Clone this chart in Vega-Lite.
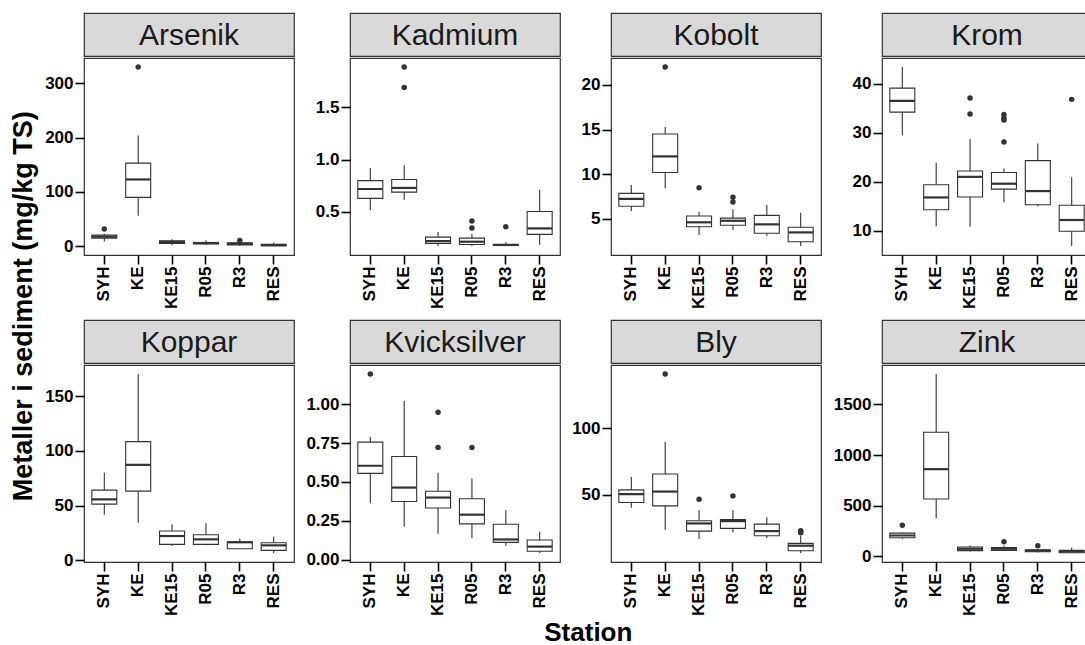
{
  "$schema": "https://vega.github.io/schema/vega-lite/v6.json",
  "padding": {"left": 10, "top": 12, "right": 0, "bottom": 2},
  "autosize": {"type": "pad"},
  "config": {
    "font": "Liberation Sans",
    "view": {"stroke": null},
    "axis": {"labelFont": "Liberation Sans", "labelFontWeight": "bold", "labelFontSize": 17, "labelColor": "#000000", "tickColor": "#000000", "tickWidth": 1.6, "tickSize": 9, "labelPadding": 2, "domain": false, "grid": false},
    "title": {"font": "Liberation Sans", "fontWeight": "bold", "fontSize": 25, "color": "#000000"}
  },
  "datasets": {
    "strips": [
      {"metal": "Arsenik"}, {"metal": "Kadmium"}, {"metal": "Kobolt"}, {"metal": "Krom"},
      {"metal": "Koppar"}, {"metal": "Kvicksilver"}, {"metal": "Bly"}, {"metal": "Zink"}
    ],
    "box": [
      {"metal": "Arsenik", "station": "SYH", "lo": 9, "q1": 15, "med": 17.5, "q3": 20.5, "hi": 23},
      {"metal": "Arsenik", "station": "KE", "lo": 56, "q1": 90, "med": 123, "q3": 153, "hi": 204},
      {"metal": "Arsenik", "station": "KE15", "lo": 2, "q1": 5, "med": 8, "q3": 10, "hi": 13},
      {"metal": "Arsenik", "station": "R05", "lo": 3, "q1": 4.5, "med": 6, "q3": 7, "hi": 11},
      {"metal": "Arsenik", "station": "R3", "lo": 1, "q1": 2.5, "med": 4.5, "q3": 6.5, "hi": 8},
      {"metal": "Arsenik", "station": "RES", "lo": 0.5, "q1": 1, "med": 2, "q3": 3.5, "hi": 7},
      {"metal": "Kadmium", "station": "SYH", "lo": 0.52, "q1": 0.63, "med": 0.72, "q3": 0.8, "hi": 0.92},
      {"metal": "Kadmium", "station": "KE", "lo": 0.616, "q1": 0.69, "med": 0.73, "q3": 0.81, "hi": 0.946},
      {"metal": "Kadmium", "station": "KE15", "lo": 0.175, "q1": 0.2, "med": 0.222, "q3": 0.26, "hi": 0.308},
      {"metal": "Kadmium", "station": "R05", "lo": 0.175, "q1": 0.19, "med": 0.216, "q3": 0.25, "hi": 0.29},
      {"metal": "Kadmium", "station": "R3", "lo": 0.175, "q1": 0.18, "med": 0.185, "q3": 0.19, "hi": 0.21},
      {"metal": "Kadmium", "station": "RES", "lo": 0.187, "q1": 0.286, "med": 0.343, "q3": 0.505, "hi": 0.71},
      {"metal": "Kobolt", "station": "SYH", "lo": 5.9, "q1": 6.42, "med": 7.24, "q3": 7.87, "hi": 8.8},
      {"metal": "Kobolt", "station": "KE", "lo": 8.43, "q1": 10.2, "med": 12.0, "q3": 14.5, "hi": 15.3},
      {"metal": "Kobolt", "station": "KE15", "lo": 3.2, "q1": 4.14, "med": 4.63, "q3": 5.34, "hi": 5.82},
      {"metal": "Kobolt", "station": "R05", "lo": 3.77, "q1": 4.3, "med": 4.8, "q3": 5.1, "hi": 6.1},
      {"metal": "Kobolt", "station": "R3", "lo": 3.1, "q1": 3.4, "med": 4.4, "q3": 5.4, "hi": 6.57},
      {"metal": "Kobolt", "station": "RES", "lo": 1.98, "q1": 2.46, "med": 3.5, "q3": 4.07, "hi": 5.7},
      {"metal": "Krom", "station": "SYH", "lo": 29.5, "q1": 34.2, "med": 36.5, "q3": 39.1, "hi": 43.4},
      {"metal": "Krom", "station": "KE", "lo": 10.95, "q1": 14.3, "med": 16.8, "q3": 19.4, "hi": 23.9},
      {"metal": "Krom", "station": "KE15", "lo": 10.8, "q1": 16.9, "med": 21.0, "q3": 22.2, "hi": 28.7},
      {"metal": "Krom", "station": "R05", "lo": 15.8, "q1": 18.5, "med": 19.6, "q3": 21.9, "hi": 22.7},
      {"metal": "Krom", "station": "R3", "lo": 15.0, "q1": 15.3, "med": 18.1, "q3": 24.3, "hi": 27.8},
      {"metal": "Krom", "station": "RES", "lo": 6.9, "q1": 9.9, "med": 12.2, "q3": 15.2, "hi": 20.9},
      {"metal": "Koppar", "station": "SYH", "lo": 41.7, "q1": 51.4, "med": 55.7, "q3": 64.2, "hi": 80},
      {"metal": "Koppar", "station": "KE", "lo": 34.4, "q1": 63.3, "med": 87.3, "q3": 108.6, "hi": 170.4},
      {"metal": "Koppar", "station": "KE15", "lo": 13.1, "q1": 14.6, "med": 22.2, "q3": 26.8, "hi": 32.9},
      {"metal": "Koppar", "station": "R05", "lo": 13.7, "q1": 14.6, "med": 19.2, "q3": 23.4, "hi": 34},
      {"metal": "Koppar", "station": "R3", "lo": 10.6, "q1": 10.6, "med": 16.5, "q3": 17, "hi": 20},
      {"metal": "Koppar", "station": "RES", "lo": 6.7, "q1": 9.1, "med": 13.7, "q3": 16.1, "hi": 21.6},
      {"metal": "Kvicksilver", "station": "SYH", "lo": 0.364, "q1": 0.555, "med": 0.604, "q3": 0.756, "hi": 0.788},
      {"metal": "Kvicksilver", "station": "KE", "lo": 0.212, "q1": 0.375, "med": 0.464, "q3": 0.663, "hi": 1.021},
      {"metal": "Kvicksilver", "station": "KE15", "lo": 0.167, "q1": 0.333, "med": 0.4, "q3": 0.44, "hi": 0.559},
      {"metal": "Kvicksilver", "station": "R05", "lo": 0.138, "q1": 0.231, "med": 0.29, "q3": 0.392, "hi": 0.523},
      {"metal": "Kvicksilver", "station": "R3", "lo": 0.089, "q1": 0.112, "med": 0.131, "q3": 0.229, "hi": 0.32},
      {"metal": "Kvicksilver", "station": "RES", "lo": 0.044, "q1": 0.055, "med": 0.085, "q3": 0.127, "hi": 0.18},
      {"metal": "Bly", "station": "SYH", "lo": 40.25, "q1": 44.25, "med": 50.5, "q3": 53.75, "hi": 63.5},
      {"metal": "Bly", "station": "KE", "lo": 23.5, "q1": 41.75, "med": 52.5, "q3": 65.75, "hi": 89.75},
      {"metal": "Bly", "station": "KE15", "lo": 16.75, "q1": 22.75, "med": 28.5, "q3": 30.5, "hi": 38.5},
      {"metal": "Bly", "station": "R05", "lo": 21.75, "q1": 24.75, "med": 30.25, "q3": 31.5, "hi": 38.5},
      {"metal": "Bly", "station": "R3", "lo": 17.5, "q1": 19.25, "med": 22.75, "q3": 28, "hi": 33.25},
      {"metal": "Bly", "station": "RES", "lo": 6.25, "q1": 8, "med": 11.75, "q3": 13.5, "hi": 19.25},
      {"metal": "Zink", "station": "SYH", "lo": 174, "q1": 183, "med": 206, "q3": 229, "hi": 239},
      {"metal": "Zink", "station": "KE", "lo": 373, "q1": 567, "med": 861, "q3": 1225, "hi": 1801},
      {"metal": "Zink", "station": "KE15", "lo": 49, "q1": 56, "med": 75, "q3": 92, "hi": 108},
      {"metal": "Zink", "station": "R05", "lo": 52, "q1": 59, "med": 75, "q3": 88, "hi": 108},
      {"metal": "Zink", "station": "R3", "lo": 39, "q1": 46, "med": 56, "q3": 65, "hi": 72},
      {"metal": "Zink", "station": "RES", "lo": 33, "q1": 36, "med": 49, "q3": 59, "hi": 85}
    ],
    "out": [
      {"metal": "Arsenik", "station": "SYH", "out": 32},
      {"metal": "Arsenik", "station": "KE", "out": 330},
      {"metal": "Arsenik", "station": "R3", "out": 10.5},
      {"metal": "Kadmium", "station": "KE", "out": 1.886},
      {"metal": "Kadmium", "station": "KE", "out": 1.69},
      {"metal": "Kadmium", "station": "R05", "out": 0.413},
      {"metal": "Kadmium", "station": "R05", "out": 0.346},
      {"metal": "Kadmium", "station": "R3", "out": 0.36},
      {"metal": "Kobolt", "station": "KE", "out": 22.0},
      {"metal": "Kobolt", "station": "KE15", "out": 8.5},
      {"metal": "Kobolt", "station": "R05", "out": 7.43},
      {"metal": "Kobolt", "station": "R05", "out": 6.9},
      {"metal": "Krom", "station": "KE15", "out": 37.1},
      {"metal": "Krom", "station": "KE15", "out": 33.8},
      {"metal": "Krom", "station": "R05", "out": 33.7},
      {"metal": "Krom", "station": "R05", "out": 33.0},
      {"metal": "Krom", "station": "R05", "out": 32.6},
      {"metal": "Krom", "station": "R05", "out": 28.1},
      {"metal": "Krom", "station": "RES", "out": 36.8},
      {"metal": "Kvicksilver", "station": "SYH", "out": 1.193},
      {"metal": "Kvicksilver", "station": "KE15", "out": 0.947},
      {"metal": "Kvicksilver", "station": "KE15", "out": 0.722},
      {"metal": "Kvicksilver", "station": "R05", "out": 0.722},
      {"metal": "Bly", "station": "KE", "out": 141},
      {"metal": "Bly", "station": "KE15", "out": 46.75},
      {"metal": "Bly", "station": "R05", "out": 49.25},
      {"metal": "Bly", "station": "RES", "out": 23},
      {"metal": "Bly", "station": "RES", "out": 22.2},
      {"metal": "Bly", "station": "RES", "out": 21.5},
      {"metal": "Zink", "station": "SYH", "out": 308},
      {"metal": "Zink", "station": "R05", "out": 144},
      {"metal": "Zink", "station": "R3", "out": 105}
    ]
  },
  "title": {"text": "Station", "orient": "bottom", "anchor": "middle", "offset": 4, "dx": 37, "fontSize": 26},
  "vconcat": [
    {
      "title": {"text": "Metaller i sediment (mg/kg TS)", "orient": "left", "anchor": "middle", "offset": 6, "dx": 8, "fontSize": 27},
      "columns": 4,
      "align": "each",
      "spacing": {"row": 9, "column": 10},
      "concat": [
        {"spacing": 0, "vconcat": [
          {"width": 210, "height": 43, "data": {"name": "strips"}, "transform": [{"filter": "datum.metal === 'Arsenik'"}], "mark": {"type": "text", "fontSize": 30, "color": "#1a1a1a", "baseline": "middle", "dy": 1}, "encoding": {"text": {"field": "metal", "type": "nominal"}}, "view": {"fill": "#d9d9d9", "stroke": "#333333", "strokeWidth": 1.2}},
          {"width": 210, "height": 197, "view": {"stroke": "#333333", "strokeWidth": 1.2}, "layer": [
            {"data": {"name": "box"}, "transform": [{"filter": "datum.metal === 'Arsenik'"}], "mark": {"type": "rule", "color": "#333333", "strokeWidth": 1.1}, "encoding": {"x": {"field": "station", "type": "nominal", "scale": {"type": "band", "domain": ["SYH", "KE", "KE15", "R05", "R3", "RES"], "paddingInner": 0, "paddingOuter": 0.1}, "axis": {"title": null, "labelAngle": 270}}, "y": {"field": "lo", "type": "quantitative", "scale": {"zero": false, "nice": false, "padding": 9}, "axis": {"title": null, "values": [0, 100, 200, 300], "format": "d"}}, "y2": {"field": "hi"}}},
            {"data": {"name": "box"}, "transform": [{"filter": "datum.metal === 'Arsenik'"}], "mark": {"type": "bar", "fill": "#ffffff", "stroke": "#333333", "strokeWidth": 1.1, "size": 25}, "encoding": {"x": {"field": "station", "type": "nominal"}, "y": {"field": "q1", "type": "quantitative"}, "y2": {"field": "q3"}}},
            {"data": {"name": "box"}, "transform": [{"filter": "datum.metal === 'Arsenik'"}], "mark": {"type": "tick", "color": "#333333", "thickness": 2.2, "size": 25, "orient": "horizontal", "opacity": 1}, "encoding": {"x": {"field": "station", "type": "nominal"}, "y": {"field": "med", "type": "quantitative"}}},
            {"data": {"name": "out"}, "transform": [{"filter": "datum.metal === 'Arsenik'"}], "mark": {"type": "point", "filled": true, "color": "#333333", "size": 30, "opacity": 1}, "encoding": {"x": {"field": "station", "type": "nominal"}, "y": {"field": "out", "type": "quantitative"}}}
          ]}
        ]},
        {"spacing": 0, "vconcat": [
          {"width": 210, "height": 43, "data": {"name": "strips"}, "transform": [{"filter": "datum.metal === 'Kadmium'"}], "mark": {"type": "text", "fontSize": 30, "color": "#1a1a1a", "baseline": "middle", "dy": 1}, "encoding": {"text": {"field": "metal", "type": "nominal"}}, "view": {"fill": "#d9d9d9", "stroke": "#333333", "strokeWidth": 1.2}},
          {"width": 210, "height": 197, "view": {"stroke": "#333333", "strokeWidth": 1.2}, "layer": [
            {"data": {"name": "box"}, "transform": [{"filter": "datum.metal === 'Kadmium'"}], "mark": {"type": "rule", "color": "#333333", "strokeWidth": 1.1}, "encoding": {"x": {"field": "station", "type": "nominal", "scale": {"type": "band", "domain": ["SYH", "KE", "KE15", "R05", "R3", "RES"], "paddingInner": 0, "paddingOuter": 0.1}, "axis": {"title": null, "labelAngle": 270}}, "y": {"field": "lo", "type": "quantitative", "scale": {"zero": false, "nice": false, "padding": 9}, "axis": {"title": null, "values": [0.5, 1, 1.5], "format": ".1f"}}, "y2": {"field": "hi"}}},
            {"data": {"name": "box"}, "transform": [{"filter": "datum.metal === 'Kadmium'"}], "mark": {"type": "bar", "fill": "#ffffff", "stroke": "#333333", "strokeWidth": 1.1, "size": 25}, "encoding": {"x": {"field": "station", "type": "nominal"}, "y": {"field": "q1", "type": "quantitative"}, "y2": {"field": "q3"}}},
            {"data": {"name": "box"}, "transform": [{"filter": "datum.metal === 'Kadmium'"}], "mark": {"type": "tick", "color": "#333333", "thickness": 2.2, "size": 25, "orient": "horizontal", "opacity": 1}, "encoding": {"x": {"field": "station", "type": "nominal"}, "y": {"field": "med", "type": "quantitative"}}},
            {"data": {"name": "out"}, "transform": [{"filter": "datum.metal === 'Kadmium'"}], "mark": {"type": "point", "filled": true, "color": "#333333", "size": 30, "opacity": 1}, "encoding": {"x": {"field": "station", "type": "nominal"}, "y": {"field": "out", "type": "quantitative"}}}
          ]}
        ]},
        {"spacing": 0, "vconcat": [
          {"width": 210, "height": 43, "data": {"name": "strips"}, "transform": [{"filter": "datum.metal === 'Kobolt'"}], "mark": {"type": "text", "fontSize": 30, "color": "#1a1a1a", "baseline": "middle", "dy": 1}, "encoding": {"text": {"field": "metal", "type": "nominal"}}, "view": {"fill": "#d9d9d9", "stroke": "#333333", "strokeWidth": 1.2}},
          {"width": 210, "height": 197, "view": {"stroke": "#333333", "strokeWidth": 1.2}, "layer": [
            {"data": {"name": "box"}, "transform": [{"filter": "datum.metal === 'Kobolt'"}], "mark": {"type": "rule", "color": "#333333", "strokeWidth": 1.1}, "encoding": {"x": {"field": "station", "type": "nominal", "scale": {"type": "band", "domain": ["SYH", "KE", "KE15", "R05", "R3", "RES"], "paddingInner": 0, "paddingOuter": 0.1}, "axis": {"title": null, "labelAngle": 270}}, "y": {"field": "lo", "type": "quantitative", "scale": {"zero": false, "nice": false, "padding": 9}, "axis": {"title": null, "values": [5, 10, 15, 20], "format": "d"}}, "y2": {"field": "hi"}}},
            {"data": {"name": "box"}, "transform": [{"filter": "datum.metal === 'Kobolt'"}], "mark": {"type": "bar", "fill": "#ffffff", "stroke": "#333333", "strokeWidth": 1.1, "size": 25}, "encoding": {"x": {"field": "station", "type": "nominal"}, "y": {"field": "q1", "type": "quantitative"}, "y2": {"field": "q3"}}},
            {"data": {"name": "box"}, "transform": [{"filter": "datum.metal === 'Kobolt'"}], "mark": {"type": "tick", "color": "#333333", "thickness": 2.2, "size": 25, "orient": "horizontal", "opacity": 1}, "encoding": {"x": {"field": "station", "type": "nominal"}, "y": {"field": "med", "type": "quantitative"}}},
            {"data": {"name": "out"}, "transform": [{"filter": "datum.metal === 'Kobolt'"}], "mark": {"type": "point", "filled": true, "color": "#333333", "size": 30, "opacity": 1}, "encoding": {"x": {"field": "station", "type": "nominal"}, "y": {"field": "out", "type": "quantitative"}}}
          ]}
        ]},
        {"spacing": 0, "vconcat": [
          {"width": 210, "height": 43, "data": {"name": "strips"}, "transform": [{"filter": "datum.metal === 'Krom'"}], "mark": {"type": "text", "fontSize": 30, "color": "#1a1a1a", "baseline": "middle", "dy": 1}, "encoding": {"text": {"field": "metal", "type": "nominal"}}, "view": {"fill": "#d9d9d9", "stroke": "#333333", "strokeWidth": 1.2}},
          {"width": 210, "height": 197, "view": {"stroke": "#333333", "strokeWidth": 1.2}, "layer": [
            {"data": {"name": "box"}, "transform": [{"filter": "datum.metal === 'Krom'"}], "mark": {"type": "rule", "color": "#333333", "strokeWidth": 1.1}, "encoding": {"x": {"field": "station", "type": "nominal", "scale": {"type": "band", "domain": ["SYH", "KE", "KE15", "R05", "R3", "RES"], "paddingInner": 0, "paddingOuter": 0.1}, "axis": {"title": null, "labelAngle": 270}}, "y": {"field": "lo", "type": "quantitative", "scale": {"zero": false, "nice": false, "padding": 9}, "axis": {"title": null, "values": [10, 20, 30, 40], "format": "d"}}, "y2": {"field": "hi"}}},
            {"data": {"name": "box"}, "transform": [{"filter": "datum.metal === 'Krom'"}], "mark": {"type": "bar", "fill": "#ffffff", "stroke": "#333333", "strokeWidth": 1.1, "size": 25}, "encoding": {"x": {"field": "station", "type": "nominal"}, "y": {"field": "q1", "type": "quantitative"}, "y2": {"field": "q3"}}},
            {"data": {"name": "box"}, "transform": [{"filter": "datum.metal === 'Krom'"}], "mark": {"type": "tick", "color": "#333333", "thickness": 2.2, "size": 25, "orient": "horizontal", "opacity": 1}, "encoding": {"x": {"field": "station", "type": "nominal"}, "y": {"field": "med", "type": "quantitative"}}},
            {"data": {"name": "out"}, "transform": [{"filter": "datum.metal === 'Krom'"}], "mark": {"type": "point", "filled": true, "color": "#333333", "size": 30, "opacity": 1}, "encoding": {"x": {"field": "station", "type": "nominal"}, "y": {"field": "out", "type": "quantitative"}}}
          ]}
        ]},
        {"spacing": 0, "vconcat": [
          {"width": 210, "height": 43, "data": {"name": "strips"}, "transform": [{"filter": "datum.metal === 'Koppar'"}], "mark": {"type": "text", "fontSize": 30, "color": "#1a1a1a", "baseline": "middle", "dy": 1}, "encoding": {"text": {"field": "metal", "type": "nominal"}}, "view": {"fill": "#d9d9d9", "stroke": "#333333", "strokeWidth": 1.2}},
          {"width": 210, "height": 197, "view": {"stroke": "#333333", "strokeWidth": 1.2}, "layer": [
            {"data": {"name": "box"}, "transform": [{"filter": "datum.metal === 'Koppar'"}], "mark": {"type": "rule", "color": "#333333", "strokeWidth": 1.1}, "encoding": {"x": {"field": "station", "type": "nominal", "scale": {"type": "band", "domain": ["SYH", "KE", "KE15", "R05", "R3", "RES"], "paddingInner": 0, "paddingOuter": 0.1}, "axis": {"title": null, "labelAngle": 270}}, "y": {"field": "lo", "type": "quantitative", "scale": {"zero": false, "nice": false, "padding": 9}, "axis": {"title": null, "values": [0, 50, 100, 150], "format": "d"}}, "y2": {"field": "hi"}}},
            {"data": {"name": "box"}, "transform": [{"filter": "datum.metal === 'Koppar'"}], "mark": {"type": "bar", "fill": "#ffffff", "stroke": "#333333", "strokeWidth": 1.1, "size": 25}, "encoding": {"x": {"field": "station", "type": "nominal"}, "y": {"field": "q1", "type": "quantitative"}, "y2": {"field": "q3"}}},
            {"data": {"name": "box"}, "transform": [{"filter": "datum.metal === 'Koppar'"}], "mark": {"type": "tick", "color": "#333333", "thickness": 2.2, "size": 25, "orient": "horizontal", "opacity": 1}, "encoding": {"x": {"field": "station", "type": "nominal"}, "y": {"field": "med", "type": "quantitative"}}},
            {"data": {"name": "out"}, "transform": [{"filter": "datum.metal === 'Koppar'"}], "mark": {"type": "point", "filled": true, "color": "#333333", "size": 30, "opacity": 1}, "encoding": {"x": {"field": "station", "type": "nominal"}, "y": {"field": "out", "type": "quantitative"}}}
          ]}
        ]},
        {"spacing": 0, "vconcat": [
          {"width": 210, "height": 43, "data": {"name": "strips"}, "transform": [{"filter": "datum.metal === 'Kvicksilver'"}], "mark": {"type": "text", "fontSize": 30, "color": "#1a1a1a", "baseline": "middle", "dy": 1}, "encoding": {"text": {"field": "metal", "type": "nominal"}}, "view": {"fill": "#d9d9d9", "stroke": "#333333", "strokeWidth": 1.2}},
          {"width": 210, "height": 197, "view": {"stroke": "#333333", "strokeWidth": 1.2}, "layer": [
            {"data": {"name": "box"}, "transform": [{"filter": "datum.metal === 'Kvicksilver'"}], "mark": {"type": "rule", "color": "#333333", "strokeWidth": 1.1}, "encoding": {"x": {"field": "station", "type": "nominal", "scale": {"type": "band", "domain": ["SYH", "KE", "KE15", "R05", "R3", "RES"], "paddingInner": 0, "paddingOuter": 0.1}, "axis": {"title": null, "labelAngle": 270}}, "y": {"field": "lo", "type": "quantitative", "scale": {"zero": false, "nice": false, "padding": 9}, "axis": {"title": null, "values": [0, 0.25, 0.5, 0.75, 1], "format": ".2f"}}, "y2": {"field": "hi"}}},
            {"data": {"name": "box"}, "transform": [{"filter": "datum.metal === 'Kvicksilver'"}], "mark": {"type": "bar", "fill": "#ffffff", "stroke": "#333333", "strokeWidth": 1.1, "size": 25}, "encoding": {"x": {"field": "station", "type": "nominal"}, "y": {"field": "q1", "type": "quantitative"}, "y2": {"field": "q3"}}},
            {"data": {"name": "box"}, "transform": [{"filter": "datum.metal === 'Kvicksilver'"}], "mark": {"type": "tick", "color": "#333333", "thickness": 2.2, "size": 25, "orient": "horizontal", "opacity": 1}, "encoding": {"x": {"field": "station", "type": "nominal"}, "y": {"field": "med", "type": "quantitative"}}},
            {"data": {"name": "out"}, "transform": [{"filter": "datum.metal === 'Kvicksilver'"}], "mark": {"type": "point", "filled": true, "color": "#333333", "size": 30, "opacity": 1}, "encoding": {"x": {"field": "station", "type": "nominal"}, "y": {"field": "out", "type": "quantitative"}}}
          ]}
        ]},
        {"spacing": 0, "vconcat": [
          {"width": 210, "height": 43, "data": {"name": "strips"}, "transform": [{"filter": "datum.metal === 'Bly'"}], "mark": {"type": "text", "fontSize": 30, "color": "#1a1a1a", "baseline": "middle", "dy": 1}, "encoding": {"text": {"field": "metal", "type": "nominal"}}, "view": {"fill": "#d9d9d9", "stroke": "#333333", "strokeWidth": 1.2}},
          {"width": 210, "height": 197, "view": {"stroke": "#333333", "strokeWidth": 1.2}, "layer": [
            {"data": {"name": "box"}, "transform": [{"filter": "datum.metal === 'Bly'"}], "mark": {"type": "rule", "color": "#333333", "strokeWidth": 1.1}, "encoding": {"x": {"field": "station", "type": "nominal", "scale": {"type": "band", "domain": ["SYH", "KE", "KE15", "R05", "R3", "RES"], "paddingInner": 0, "paddingOuter": 0.1}, "axis": {"title": null, "labelAngle": 270}}, "y": {"field": "lo", "type": "quantitative", "scale": {"zero": false, "nice": false, "padding": 9}, "axis": {"title": null, "values": [50, 100], "format": "d"}}, "y2": {"field": "hi"}}},
            {"data": {"name": "box"}, "transform": [{"filter": "datum.metal === 'Bly'"}], "mark": {"type": "bar", "fill": "#ffffff", "stroke": "#333333", "strokeWidth": 1.1, "size": 25}, "encoding": {"x": {"field": "station", "type": "nominal"}, "y": {"field": "q1", "type": "quantitative"}, "y2": {"field": "q3"}}},
            {"data": {"name": "box"}, "transform": [{"filter": "datum.metal === 'Bly'"}], "mark": {"type": "tick", "color": "#333333", "thickness": 2.2, "size": 25, "orient": "horizontal", "opacity": 1}, "encoding": {"x": {"field": "station", "type": "nominal"}, "y": {"field": "med", "type": "quantitative"}}},
            {"data": {"name": "out"}, "transform": [{"filter": "datum.metal === 'Bly'"}], "mark": {"type": "point", "filled": true, "color": "#333333", "size": 30, "opacity": 1}, "encoding": {"x": {"field": "station", "type": "nominal"}, "y": {"field": "out", "type": "quantitative"}}}
          ]}
        ]},
        {"spacing": 0, "vconcat": [
          {"width": 210, "height": 43, "data": {"name": "strips"}, "transform": [{"filter": "datum.metal === 'Zink'"}], "mark": {"type": "text", "fontSize": 30, "color": "#1a1a1a", "baseline": "middle", "dy": 1}, "encoding": {"text": {"field": "metal", "type": "nominal"}}, "view": {"fill": "#d9d9d9", "stroke": "#333333", "strokeWidth": 1.2}},
          {"width": 210, "height": 197, "view": {"stroke": "#333333", "strokeWidth": 1.2}, "layer": [
            {"data": {"name": "box"}, "transform": [{"filter": "datum.metal === 'Zink'"}], "mark": {"type": "rule", "color": "#333333", "strokeWidth": 1.1}, "encoding": {"x": {"field": "station", "type": "nominal", "scale": {"type": "band", "domain": ["SYH", "KE", "KE15", "R05", "R3", "RES"], "paddingInner": 0, "paddingOuter": 0.1}, "axis": {"title": null, "labelAngle": 270}}, "y": {"field": "lo", "type": "quantitative", "scale": {"zero": false, "nice": false, "padding": 9}, "axis": {"title": null, "values": [0, 500, 1000, 1500], "format": "d"}}, "y2": {"field": "hi"}}},
            {"data": {"name": "box"}, "transform": [{"filter": "datum.metal === 'Zink'"}], "mark": {"type": "bar", "fill": "#ffffff", "stroke": "#333333", "strokeWidth": 1.1, "size": 25}, "encoding": {"x": {"field": "station", "type": "nominal"}, "y": {"field": "q1", "type": "quantitative"}, "y2": {"field": "q3"}}},
            {"data": {"name": "box"}, "transform": [{"filter": "datum.metal === 'Zink'"}], "mark": {"type": "tick", "color": "#333333", "thickness": 2.2, "size": 25, "orient": "horizontal", "opacity": 1}, "encoding": {"x": {"field": "station", "type": "nominal"}, "y": {"field": "med", "type": "quantitative"}}},
            {"data": {"name": "out"}, "transform": [{"filter": "datum.metal === 'Zink'"}], "mark": {"type": "point", "filled": true, "color": "#333333", "size": 30, "opacity": 1}, "encoding": {"x": {"field": "station", "type": "nominal"}, "y": {"field": "out", "type": "quantitative"}}}
          ]}
        ]}
      ]
    }
  ]
}
